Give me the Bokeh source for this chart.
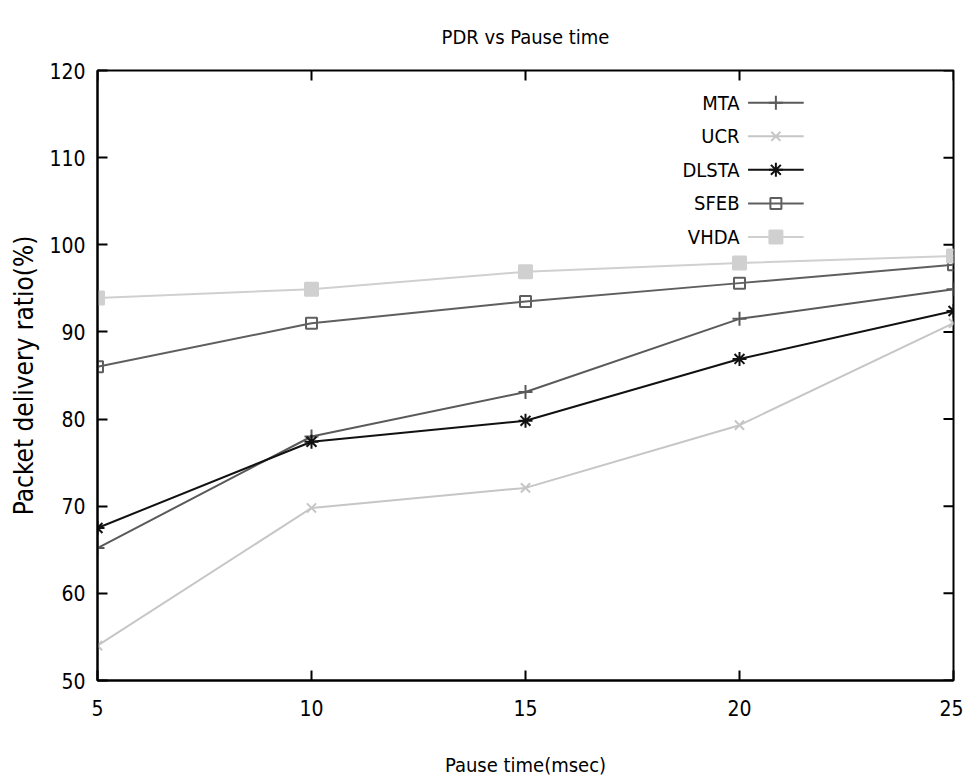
from bokeh.plotting import figure
from bokeh.models import Range1d, FixedTicker, Label
from bokeh.embed import file_html
from bokeh.resources import INLINE

# ---- data ----
pause_time = [5, 10, 15, 20, 25]
mta = [65.2, 78.0, 83.1, 91.5, 94.9]
ucr = [54.0, 69.8, 72.1, 79.3, 91.0]
dlsta = [67.5, 77.4, 79.8, 86.9, 92.4]
sfeb = [86.0, 91.0, 93.5, 95.6, 97.7]
vhda = [93.9, 94.9, 96.9, 97.9, 98.7]
series_names = ["MTA", "UCR", "DLSTA", "SFEB", "VHDA"]
x_ticks = [5, 10, 15, 20, 25]
y_ticks = [50, 60, 70, 80, 90, 100, 110, 120]
title_text = "PDR vs Pause time"

NARROW = "DejaVu Sans Condensed, Liberation Sans Narrow, sans-serif"

styles = {
    "MTA":   dict(color="#5a5a5a", marker="cross", fill=None, size=14),
    "UCR":   dict(color="#c6c6c6", marker="x", fill=None, size=13),
    "DLSTA": dict(color="#111111", marker="asterisk", fill=None, size=14),
    "SFEB":  dict(color="#5f5f5f", marker="square", fill=None, size=11),
    "VHDA":  dict(color="#d0d0d0", marker="square", fill="#d0d0d0", size=13),
}
values = {"MTA": mta, "UCR": ucr, "DLSTA": dlsta, "SFEB": sfeb, "VHDA": vhda}

FRAME_W, FRAME_H = 856, 610
X0, X1, Y0, Y1 = 5, 25, 50, 120

p = figure(width=963, height=776, output_backend="svg", toolbar_location=None,
           x_range=Range1d(X0, X1), y_range=Range1d(Y0, Y1),
           frame_width=FRAME_W, frame_height=FRAME_H,
           min_border_left=97, min_border_right=10, min_border_top=70, min_border_bottom=96,
           title=title_text)
p.background_fill_color = "white"
p.border_fill_color = "white"
p.grid.visible = False
p.outline_line_color = "black"
p.outline_line_width = 2

p.title.align = "center"
p.title.vertical_align = "top"
p.title.text_font = NARROW
p.title.text_font_size = "20px"
p.title.text_font_style = "normal"
p.title.text_color = "black"
p.title.offset = 0
p.title.standoff = 40

for ax in (p.xaxis[0], p.yaxis[0]):
    ax.major_tick_in = 10
    ax.major_tick_out = 0
    ax.minor_tick_line_color = None
    ax.axis_line_width = 2
    ax.major_tick_line_width = 2
    ax.major_label_text_font = NARROW
    ax.major_label_text_font_size = "21px"
    ax.major_label_text_color = "black"
    ax.axis_label_text_color = "black"
    ax.axis_label_text_font_style = "normal"

p.xaxis[0].ticker = FixedTicker(ticks=x_ticks)
p.yaxis[0].ticker = FixedTicker(ticks=y_ticks)
p.xaxis[0].major_label_standoff = 19
p.yaxis[0].major_label_standoff = 12
p.xaxis[0].axis_label = "Pause time(msec)"
p.xaxis[0].axis_label_text_font = NARROW
p.xaxis[0].axis_label_text_font_size = "20px"
p.xaxis[0].axis_label_standoff = 34
p.yaxis[0].axis_label = "Packet delivery ratio(%)"
p.yaxis[0].axis_label_text_font = NARROW
p.yaxis[0].axis_label_text_font_size = "26px"
p.yaxis[0].axis_label_standoff = 7

# mirrored inward ticks on the top and right edges (10 px long)
dx_tick = 10 * (X1 - X0) / FRAME_W
dy_tick = 10 * (Y1 - Y0) / FRAME_H
p.segment(x0=x_ticks, y0=[Y1] * len(x_ticks), x1=x_ticks, y1=[Y1 - dy_tick] * len(x_ticks),
          line_color="black", line_width=2)
p.segment(x0=[X1] * len(y_ticks), y0=y_ticks, x1=[X1 - dx_tick] * len(y_ticks), y1=y_ticks,
          line_color="black", line_width=2)

for name in series_names:
    st = styles[name]
    ys = values[name]
    p.line(pause_time, ys, line_color=st["color"], line_width=2)
    p.scatter(pause_time, ys, marker=st["marker"], size=st["size"],
              line_color=st["color"], line_width=2,
              fill_color=st["fill"] if st["fill"] else None)

# manual legend (label left of sample, as in the reference)
LEG_TEXT_X = 20.0
LEG_X0 = 20.2
LEG_X1 = 21.5
LEG_Y_TOP = 116.3
LEG_DY = 3.85
for i, name in enumerate(series_names):
    st = styles[name]
    yy = LEG_Y_TOP - i * LEG_DY
    p.line([LEG_X0, LEG_X1], [yy, yy], line_color=st["color"], line_width=2)
    p.scatter([(LEG_X0 + LEG_X1) / 2], [yy], marker=st["marker"], size=st["size"],
              line_color=st["color"], line_width=2,
              fill_color=st["fill"] if st["fill"] else None)
    p.add_layout(Label(x=LEG_TEXT_X, y=yy, text=name, text_align="right",
                       text_baseline="middle", text_font=NARROW,
                       text_font_size="20px", text_color="black"))

open("out.html", "w").write(file_html(p, INLINE))
